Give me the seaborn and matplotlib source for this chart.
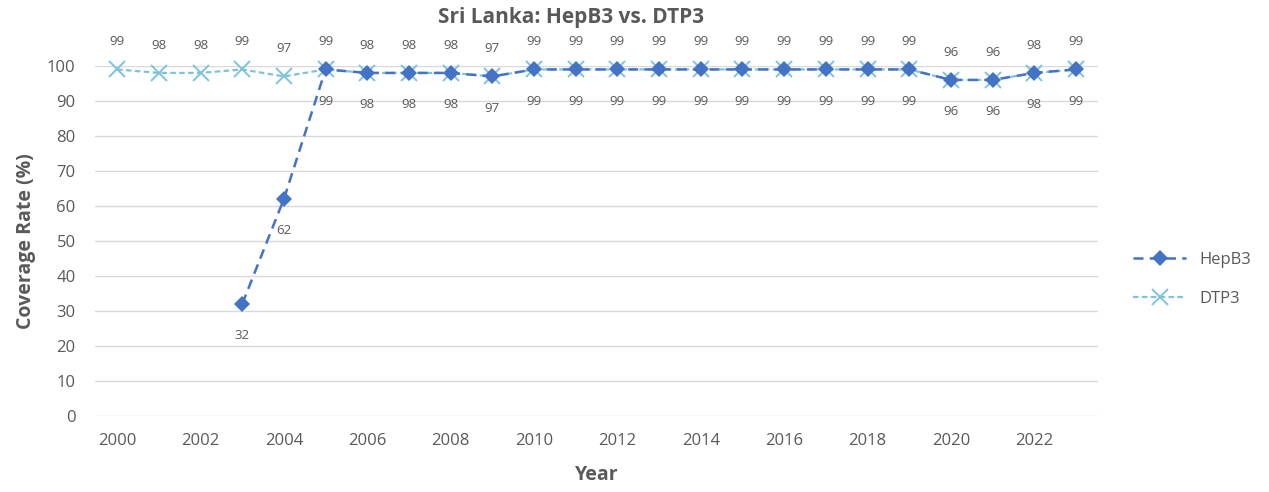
import numpy as np
import pandas as pd
import seaborn as sns
import matplotlib
matplotlib.use("Agg")
import matplotlib.pyplot as plt

# data
years = list(range(2000, 2024))
hepb3 = [np.nan, np.nan, np.nan, 32, 62, 99, 98, 98, 98, 97,
         99, 99, 99, 99, 99, 99, 99, 99, 99, 99, 96, 96, 98, 99]
dtp3 = [99, 98, 98, 99, 97, 99, 98, 98, 98, 97,
        99, 99, 99, 99, 99, 99, 99, 99, 99, 99, 96, 96, 98, 99]

df = pd.DataFrame({"Year": years, "HepB3": hepb3, "DTP3": dtp3})

sns.set_theme(style="white")
plt.rcParams['font.family'] = ['Open Sans', 'DejaVu Sans']
grey = "#595959"
c_hep = "#4472C4"
c_dtp = "#7CC4DA"

fig = plt.figure(figsize=(12.69, 4.92), dpi=100)
ax = fig.add_axes([0.0749, 0.1545, 0.7904, 0.7115])

sns.lineplot(data=df, x="Year", y="DTP3", ax=ax, color=c_dtp, lw=1.6,
             linestyle=(0, (2.5, 1.5)), marker="x", markersize=11, mew=1.4,
             mec=c_dtp, label="DTP3", clip_on=False, zorder=3)
sns.lineplot(data=df, x="Year", y="HepB3", ax=ax, color=c_hep, lw=1.8,
             linestyle=(0, (4, 2.5)), marker="D", markersize=8, mew=0,
             mec=c_hep, label="HepB3", clip_on=False, zorder=4)

for x, v in zip(years, dtp3):
    ax.annotate(f"{v}", (x, v), xytext=(0, 20), textcoords="offset points",
                ha="center", va="center", fontsize=9.5, color=grey)
for x, v in zip(years, hepb3):
    if np.isnan(v):
        continue
    ax.annotate(f"{int(v)}", (x, v), xytext=(0, -23), textcoords="offset points",
                ha="center", va="center", fontsize=9.5, color=grey)

ax.set_xlim(1999.47, 2023.53)
ax.set_ylim(0, 100)
ax.set_yticks(range(0, 101, 10))
ax.set_xticks(range(2000, 2023, 2))
ax.yaxis.grid(True, color="#D9D9D9", lw=1)
ax.xaxis.grid(False)
for s in ax.spines.values():
    s.set_visible(False)
ax.tick_params(axis="both", colors=grey, labelsize=12, length=0)
ax.tick_params(axis="x", pad=12)
ax.tick_params(axis="y", pad=14)

ax.set_xlabel("Year", fontsize=14, fontweight="bold", color=grey, labelpad=12)
ax.set_ylabel("Coverage Rate (%)", fontsize=14, fontweight="bold", color=grey, labelpad=8)
fig.text(0.45, 0.965, "Sri Lanka: HepB3 vs. DTP3", ha="center", va="center",
         fontsize=15, fontweight="bold", color=grey)

handles, labels = ax.get_legend_handles_labels()
ax.legend(handles[::-1], labels[::-1], loc="center left", bbox_to_anchor=(1.02, 0.39),
          frameon=False, fontsize=12, labelcolor=grey, handlelength=3.2,
          labelspacing=1.4)

fig.savefig("out.png", dpi=100)
